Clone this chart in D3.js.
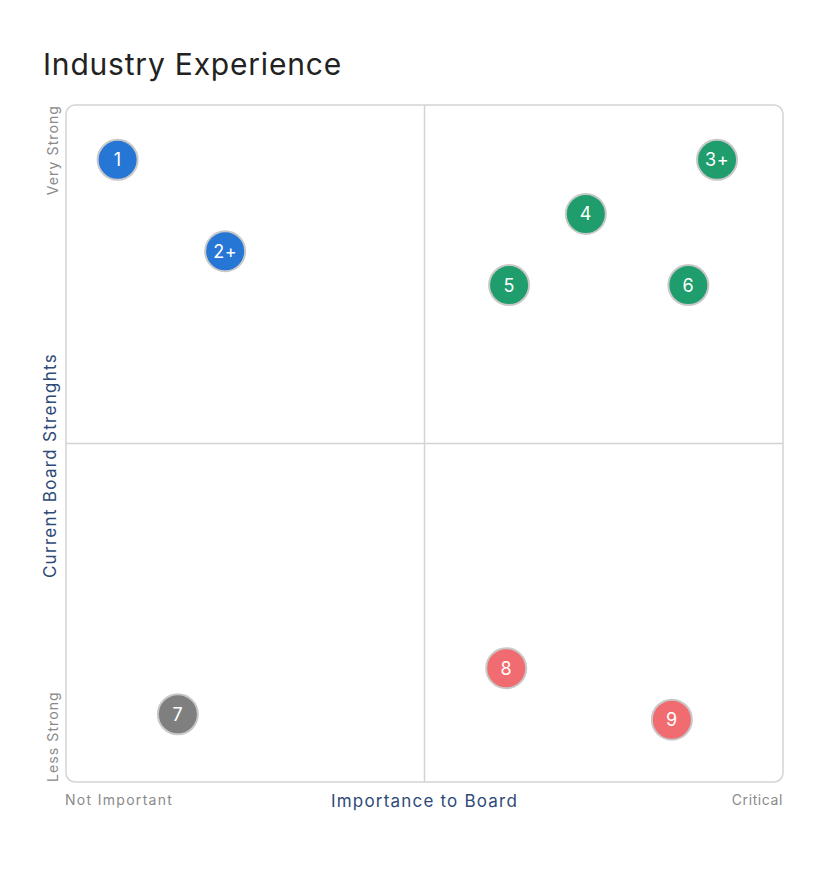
<!DOCTYPE html>
<html><head><meta charset="utf-8">
<script src="https://cdn.jsdelivr.net/npm/d3@7"></script>
<style>body{margin:0;background:#fff;font-family:"Inter","Noto Sans",sans-serif;}</style>
</head><body>
<svg id="chart" width="838" height="890"></svg>
<script>
const labels = ["1","2+","3+","4","5","6","7","8","9"];
const importance = [7.2, 22.2, 90.8, 72.5, 61.8, 86.8, 15.6, 61.4, 84.5];
const strength = [91.9, 78.4, 91.9, 83.9, 73.4, 73.4, 10.0, 16.8, 9.2];
const groups = ["blue","blue","green","green","green","green","gray","red","red"];
const colorMap = {blue:"#2676d6", green:"#1f9d6c", gray:"#7f7f7f", red:"#f06c70"};

const svg = d3.select("#chart");
const L=66, R=783, T=105, B=782;
const x = d3.scaleLinear().domain([0,100]).range([L,R]);
const y = d3.scaleLinear().domain([0,100]).range([B,T]);

svg.append("text").attr("x",43).attr("y",75).attr("font-size",30).attr("letter-spacing",0.8).attr("fill","#222")
  .text("Industry Experience");

svg.append("rect").attr("x",L).attr("y",T).attr("width",R-L).attr("height",B-T)
  .attr("rx",9).attr("fill","none").attr("stroke","#d4d4d4").attr("stroke-width",1.5);
svg.append("line").attr("x1",x(50)).attr("x2",x(50)).attr("y1",T).attr("y2",B).attr("stroke","#d4d4d4").attr("stroke-width",1.5);
svg.append("line").attr("x1",L).attr("x2",R).attr("y1",y(50)).attr("y2",y(50)).attr("stroke","#d4d4d4").attr("stroke-width",1.5);

// axis labels
svg.append("text").attr("x",x(50)).attr("y",807).attr("text-anchor","middle").attr("font-size",17).attr("letter-spacing",1.2).attr("fill","#2e4a78").text("Importance to Board");
svg.append("text").attr("transform",`translate(56,${y(50)+22}) rotate(-90)`).attr("text-anchor","middle").attr("font-size",17).attr("letter-spacing",1.3).attr("fill","#2e4a78").text("Current Board Strenghts");
svg.append("text").attr("x",L-1).attr("y",805).attr("font-size",14).attr("letter-spacing",1.3).attr("fill","#8a8a8a").text("Not Important");
svg.append("text").attr("x",R).attr("y",805).attr("text-anchor","end").attr("font-size",14).attr("letter-spacing",0.6).attr("fill","#8a8a8a").text("Critical");
svg.append("text").attr("transform",`translate(58,${T}) rotate(-90)`).attr("text-anchor","end").attr("font-size",14).attr("letter-spacing",1.1).attr("fill","#8a8a8a").text("Very Strong");
svg.append("text").attr("transform",`translate(58,${B}) rotate(-90)`).attr("text-anchor","start").attr("font-size",14).attr("letter-spacing",1.1).attr("fill","#8a8a8a").text("Less Strong");

const data = labels.map((l,i)=>({l, xv:importance[i], yv:strength[i], g:groups[i]}));
const pts = svg.selectAll("g.pt").data(data).join("g").attr("class","pt")
  .attr("transform",d=>`translate(${x(d.xv)},${y(d.yv)})`);
pts.append("circle").attr("r",20).attr("fill",d=>colorMap[d.g]).attr("stroke","#c8c8c8").attr("stroke-width",2);
pts.append("text").attr("text-anchor","middle").attr("dy","0.36em").attr("font-size",18).attr("letter-spacing",0.5).attr("fill","#fff").text(d=>d.l);
</script>
</body></html>
